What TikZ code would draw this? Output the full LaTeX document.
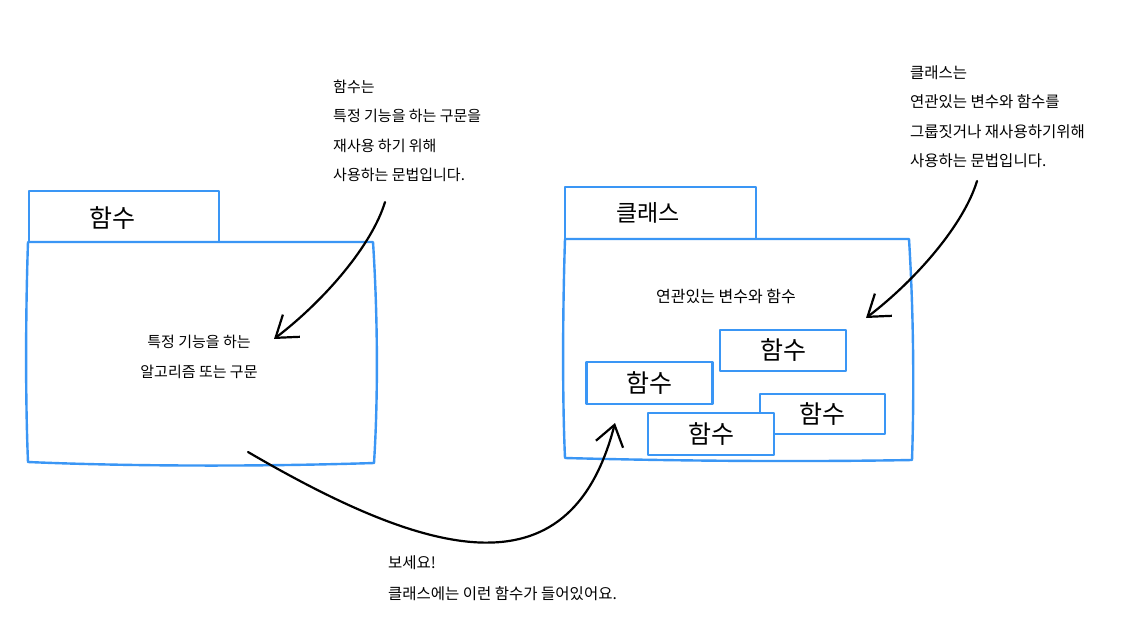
\documentclass[tikz,border=0pt]{standalone}
\usepackage{fontspec}
\setmainfont{Noto Sans CJK KR}
\usetikzlibrary{arrows.meta}
\definecolor{pkgblue}{RGB}{58,150,245}
\begin{document}
\begin{tikzpicture}[x=1pt,y=-1pt,
  pkg/.style={draw=pkgblue, line width=2.4pt, line join=round},
  tabbox/.style={pkg, rectangle, inner sep=0pt},
  fnbox/.style={pkg, rectangle, fill=white, minimum width=126pt, minimum height=41pt, inner sep=0pt, font=\fontsize{25}{25}\selectfont},
  title/.style={font=\fontsize{25}{25}\selectfont, inner sep=0pt},
  note/.style={font=\fontsize{15}{29.5}\selectfont, align=left, inner sep=0pt, anchor=base west},
  bodytext/.style={font=\fontsize{15}{30}\selectfont, align=center, inner sep=0pt, anchor=base},
  arr/.style={line width=2.2pt, line cap=round, -{Straight Barb[length=20pt,width=28pt,line width=2.2pt]}}
]
\useasboundingbox (0,0) rectangle (1121,616);
\fill[white] (0,0) rectangle (1121,616);

% left package (함수)
\node[tabbox, minimum width=190pt, minimum height=51pt] (tabA) at (124,216.5) {};
\node[title] (titleA) at (112,218) {함수};
\draw[pkg] (28,242) -- (373,242) .. controls (378,320) and (378,400) .. (374,463)
  .. controls (250,467) and (120,466) .. (28,462)
  .. controls (25,390) and (26,300) .. (28,242) -- cycle;
\node[bodytext] (textA) at (199,377) {특정 기능을 하는\\알고리즘 또는 구문};

% right package (클래스)
\node[tabbox, minimum width=191pt, minimum height=52pt] (tabB) at (660.5,213) {};
\node[title, font=\fontsize{23}{23}\selectfont] (titleB) at (648,213) {클래스};
\draw[pkg] (565,239) -- (909,239) .. controls (914,320) and (914,400) .. (912,460)
  .. controls (800,462) and (680,461) .. (565,458)
  .. controls (562,390) and (563,300) .. (565,239) -- cycle;
\node[bodytext, font=\fontsize{16}{30}\selectfont] (textB) at (726,302.5) {연관있는 변수와 함수};

\node[fnbox] (fA) at (783,350.5) {함수};
\node[fnbox, minimum height=42pt] (fB) at (649.5,383) {함수};
\node[fnbox, minimum width=125pt, minimum height=40pt] (fC) at (822.5,414) {함수};
\node[fnbox, minimum height=42pt] (fD) at (711,434) {함수};

% notes
\node[note] (note1) at (333,180.5) {함수는\\특정 기능을 하는 구문을\\재사용 하기 위해\\사용하는 문법입니다.};
\node[note, font=\fontsize{15.5}{29.3}\selectfont] (note2) at (910,166.5) {클래스는\\연관있는 변수와 함수를\\그룹짓거나 재사용하기위해\\사용하는 문법입니다.};
\node[note, font=\fontsize{15.5}{31}\selectfont] (note3) at (388,599.5) {보세요!\\클래스에는 이런 함수가 들어있어요.};

% arrows
\coordinate (a1s) at (385,202);
\coordinate (a1e) at (274,339);
\coordinate (a2s) at (977,181);
\coordinate (a2e) at (866,318);
\coordinate (a3s) at (248,452);
\coordinate (a3e) at (615,423);
\draw[arr] (a1s) .. controls (372,245) and (325,300) .. (a1e);
\draw[arr] (a2s) .. controls (964,224) and (917,279) .. (a2e);
\draw[arr] (a3s) .. controls (423,554) and (569,600) .. (a3e);
\end{tikzpicture}
\end{document}
